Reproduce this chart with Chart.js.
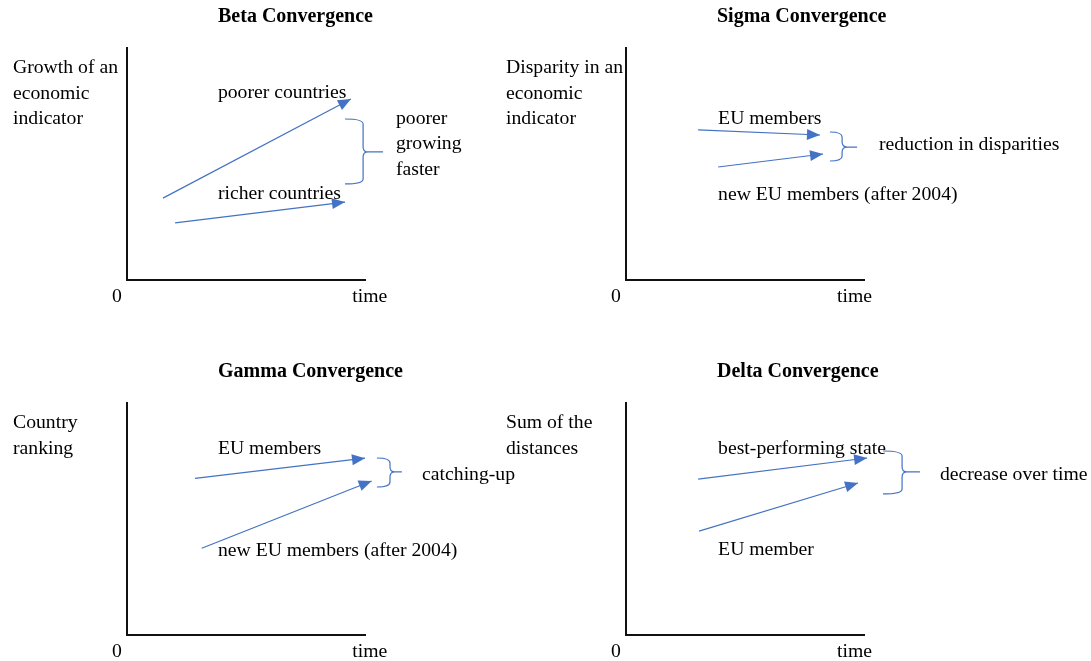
<!DOCTYPE html>
<html>
<head>
<meta charset="utf-8">
<script src="https://cdn.jsdelivr.net/npm/chart.js@4/dist/chart.umd.min.js"></script>
<style>
  html, body { margin: 0; padding: 0; background: #fff; }
  #page { position: relative; width: 1091px; height: 661px; }
  #page canvas { position: absolute; }
</style>
</head>
<body>
<div id="page">
  <canvas id="beta" width="545" height="330" style="left:0;top:0"></canvas>
  <canvas id="sigma" width="592" height="330" style="left:499px;top:0"></canvas>
  <canvas id="gamma" width="545" height="306" style="left:0;top:355px"></canvas>
  <canvas id="delta" width="592" height="306" style="left:499px;top:355px"></canvas>
</div>
<script>
// --- data (axis units: both axes run 0..100, the plotted box) ---

const titles = ['Beta Convergence', 'Sigma Convergence', 'Gamma Convergence', 'Delta Convergence'];

const yAxisTitles = [
    ['Growth of an', 'economic', 'indicator'],
    ['Disparity in an', 'economic', 'indicator'],
    ['Country', 'ranking'],
    ['Sum of the', 'distances']
];

const originLabel = '0';
const xAxisTitle = 'time';
const timeLabelX = [102, 96, 102, 96];

// series names, one per arrow
const seriesNames = [
    ['poorer countries', 'richer countries'],
    ['EU members', 'new EU members (after 2004)'],
    ['EU members', 'new EU members (after 2004)'],
    ['best-performing state', 'EU member']
];

// arrows: [x start, y start, x end, y end]
const betaArrows = [[15.1, 35.3, 94.1, 78.0], [20.2, 24.6, 91.6, 33.6]];
const sigmaArrows = [[30.3, 64.7, 81.5, 62.5], [38.7, 48.7, 82.8, 54.3]];
const gammaArrows = [[28.6, 67.5, 100.0, 76.2], [31.4, 37.4, 102.8, 66.4]];
const deltaArrows = [[30.3, 67.2, 101.3, 76.3], [30.7, 44.8, 97.5, 65.5]];

// where each series name sits: [x, y]
const seriesNamePos = [
    [[38.2, 81.5], [38.2, 37.9]],
    [[38.7, 70.3], [38.7, 37.5]],
    [[38.2, 81.0], [38.2, 37.1]],
    [[38.7, 81.0], [38.7, 37.5]]
];

// braces: [x of ends, x of spine, x of tip, top y, middle y, bottom y]
const braces = [
    [91.6, 99.2, 107.6, 69.4, 55.2, 41.4],
    [85.7, 90.8, 97.1, 63.8, 57.3, 51.3],
    [105.0, 110.5, 115.5, 76.3, 70.3, 63.8],
    [108.0, 116.0, 123.5, 79.3, 70.3, 60.8]
];

const braceNotes = [['poorer', 'growing', 'faster'], ['reduction in disparities'], ['catching-up'], ['decrease over time']];
const braceNotePos = [[113, 59.5], [106.3, 59.1], [124, 69.8], [131.9, 69.8]];

// --- drawing ---

const BLUE = '#4472C4';
const FONT = '19.7px "Liberation Serif", "Times New Roman", serif';
const BOLD = 'bold 20px "Liberation Serif", "Times New Roman", serif';
const LINE_H = 25.5;
const DY = 2; // canvas 'middle' sits a little high for this face

function drawArrowHead(ctx, from, to) {
    const angle = Math.atan2(to.y - from.y, to.x - from.x);
    const len = 13, half = 5.5;
    ctx.save();
    ctx.translate(to.x, to.y);
    ctx.rotate(angle);
    ctx.beginPath();
    ctx.moveTo(0, 0);
    ctx.lineTo(-len, -half);
    ctx.lineTo(-len, half);
    ctx.closePath();
    ctx.fillStyle = BLUE;
    ctx.fill();
    ctx.restore();
}

function drawBrace(ctx, xs, ys, b) {
    const [endV, spineV, tipV, topV, midV, botV] = b;
    const ex = xs.getPixelForValue(endV), sx = xs.getPixelForValue(spineV), tx = xs.getPixelForValue(tipV);
    const ty = ys.getPixelForValue(topV), my = ys.getPixelForValue(midV), by = ys.getPixelForValue(botV);
    const r = 5;
    ctx.beginPath();
    ctx.moveTo(ex, ty);
    ctx.quadraticCurveTo(sx, ty, sx, ty + r);
    ctx.lineTo(sx, my - r);
    ctx.quadraticCurveTo(sx, my, sx + r, my);
    ctx.lineTo(tx, my);
    ctx.moveTo(sx + r, my);
    ctx.quadraticCurveTo(sx, my, sx, my + r);
    ctx.lineTo(sx, by - r);
    ctx.quadraticCurveTo(sx, by, ex, by);
    ctx.strokeStyle = BLUE;
    ctx.lineWidth = 1.2;
    ctx.stroke();
}

function convergencePlugin(i) {
    return {
        id: 'convergence' + i,
        afterDatasetsDraw(chart) {
            const ctx = chart.ctx;
            // arrow heads on the end point of each series
            chart.data.datasets.forEach((ds, k) => {
                const pts = chart.getDatasetMeta(k).data;
                drawArrowHead(ctx, pts[0], pts[pts.length - 1]);
            });
        },
        afterDraw(chart) {
            const ctx = chart.ctx;
            const xs = chart.scales.x, ys = chart.scales.y;
            const area = chart.chartArea;
            ctx.save();
            ctx.fillStyle = '#000';
            ctx.textBaseline = 'middle';

            // panel title
            ctx.font = BOLD;
            ctx.textAlign = 'left';
            ctx.fillText(titles[i], area.left + 91, 15 + DY);

            ctx.font = FONT;
            // y axis title, horizontal lines left of the axis
            const yLeft = i % 2 === 0 ? area.left - 114 : area.left - 120;
            yAxisTitles[i].forEach((line, n) => ctx.fillText(line, yLeft, 66 + DY + n * LINE_H));

            // origin and x axis title
            ctx.textAlign = 'center';
            ctx.fillText(originLabel, area.left - 10, area.bottom + 15 + DY);
            ctx.fillText(xAxisTitle, xs.getPixelForValue(timeLabelX[i]), area.bottom + 15 + DY);

            // series names
            ctx.textAlign = 'left';
            seriesNames[i].forEach((name, k) => {
                const p = seriesNamePos[i][k];
                ctx.fillText(name, xs.getPixelForValue(p[0]), ys.getPixelForValue(p[1]) + DY);
            });

            // brace and its note
            drawBrace(ctx, xs, ys, braces[i]);
            const notes = braceNotes[i];
            const np = braceNotePos[i];
            const cy = ys.getPixelForValue(np[1]) + DY;
            notes.forEach((line, n) => {
                ctx.fillText(line, xs.getPixelForValue(np[0]), cy + (n - (notes.length - 1) / 2) * LINE_H);
            });
            ctx.restore();
        }
    };
}

function makePanel(canvasId, i, arrows) {
    const canvas = document.getElementById(canvasId);
    const axis = {
        type: 'linear',
        min: 0,
        max: 100,
        grid: { display: false, drawTicks: false },
        ticks: { display: false },
        border: { display: true, color: '#111', width: 2 }
    };
    return new Chart(canvas, {
        type: 'scatter',
        data: {
            datasets: arrows.map((a, k) => ({
                label: seriesNames[i][k],
                data: [{ x: a[0], y: a[1] }, { x: a[2], y: a[3] }],
                showLine: true,
                borderColor: BLUE,
                backgroundColor: BLUE,
                borderWidth: 1.2,
                pointRadius: 0,
                clip: false
            }))
        },
        options: {
            responsive: false,
            animation: false,
            events: [],
            layout: {
                padding: { left: 127, top: 48, right: canvas.width - 365, bottom: canvas.height - 280 }
            },
            plugins: {
                legend: { display: false },
                tooltip: { enabled: false },
                title: { display: false }
            },
            scales: { x: axis, y: axis }
        },
        plugins: [convergencePlugin(i)]
    });
}

makePanel('beta', 0, betaArrows);
makePanel('sigma', 1, sigmaArrows);
makePanel('gamma', 2, gammaArrows);
makePanel('delta', 3, deltaArrows);
</script>
</body>
</html>
